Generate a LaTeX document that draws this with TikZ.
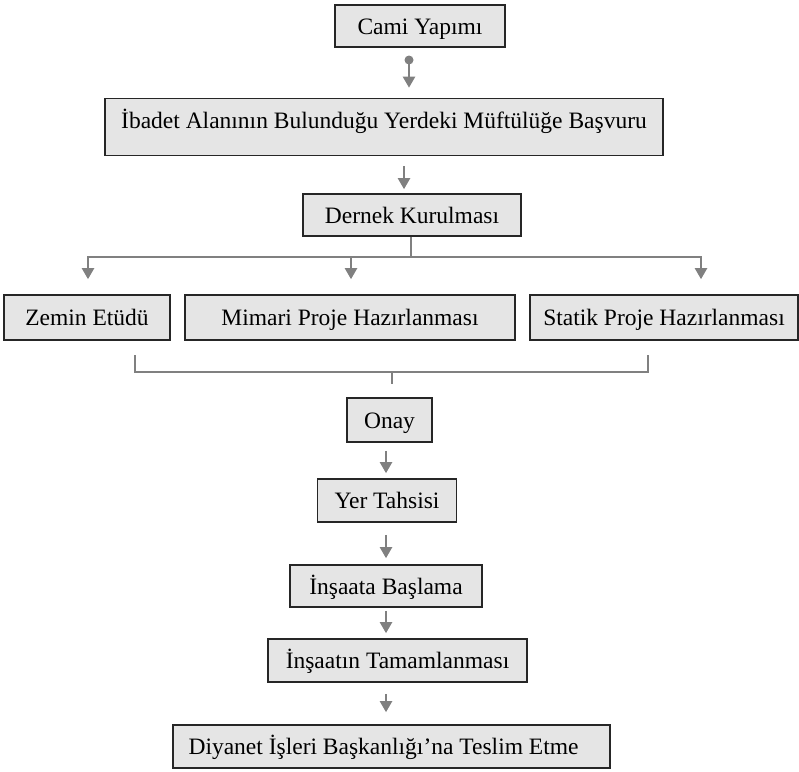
\documentclass[tikz,border=0pt]{standalone}
\usepackage{fontspec}
\setmainfont{Liberation Serif}
\usetikzlibrary{arrows.meta}

\tikzset{
  boxtext/.style={inner sep=0pt, text height=16pt, text depth=0pt,
                  font=\fontsize{23.5pt}{28pt}\selectfont},
  stepbox/.style={boxtext, draw=black!85, fill=gray!20, line width=1.6pt},
  wire/.style={draw=black!50, line width=2.2pt},
  conn/.style={wire, -{Triangle[length=11pt,width=12pt]}}
}

\begin{document}
\begin{tikzpicture}[x=1pt,y=-1pt]
  \useasboundingbox (0,0) rectangle (799,771);

  % process steps
  \node[stepbox, minimum width=170pt, minimum height=42pt] (cami) at (420,26) {Cami Yapımı};
  \node[stepbox, minimum width=558pt, minimum height=57pt] (ibadet) at (384,127) {};
  \node[boxtext] at ([yshift=7pt]ibadet.center) {İbadet Alanının Bulunduğu Yerdeki Müftülüğe Başvuru};
  \node[stepbox, minimum width=218pt, minimum height=42pt] (dernek) at (412,215) {Dernek Kurulması};

  \node[stepbox, minimum width=166pt, minimum height=45pt] (zemin) at (87,317.5) {Zemin Etüdü};
  \node[stepbox, minimum width=330pt, minimum height=45pt] (mimari) at (350,317.5) {Mimari Proje Hazırlanması};
  \node[stepbox, minimum width=268pt, minimum height=45pt] (statik) at (664,317.5) {Statik Proje Hazırlanması};

  \node[stepbox, minimum width=85pt, minimum height=44pt] (onay) at (389.5,420) {Onay};
  \node[stepbox, minimum width=139pt, minimum height=43pt] (yer) at (387,500.5) {Yer Tahsisi};
  \node[stepbox, minimum width=192pt, minimum height=42pt] (insaat) at (386,586) {İnşaata Başlama};
  \node[stepbox, minimum width=259pt, minimum height=43pt] (tamam) at (397.5,660.5) {İnşaatın Tamamlanması};
  \node[stepbox, minimum width=437pt, minimum height=43pt] (diyanet) at (391.5,746.5) {};
  \node[boxtext] at ([xshift=-8pt]diyanet.center) {Diyanet İşleri Başkanlığı’na Teslim Etme};

  % start of the flow
  \coordinate (dot) at (409,60);
  \fill[black!50] (dot) circle (4.5pt);
  \draw[conn] (dot) -- ([yshift=10pt]ibadet.north -| dot);

  \draw[conn, shorten <=10pt, shorten >=4pt] ([xshift=20pt]ibadet.south) -- ([xshift=20pt]ibadet.south |- dernek.north);

  % split into the three project studies
  \coordinate (busL) at (88,257);
  \coordinate (busR) at (701,257);
  \draw[wire] ([xshift=-1pt]dernek.south) -- ([xshift=-1pt]dernek.south |- busL);
  \draw[conn] ([xshift=-1pt]dernek.south |- busL) -- (busL) -- ([yshift=15pt]zemin.north -| busL);
  \draw[conn] ([xshift=-1pt]dernek.south |- busR) -- (busR) -- ([yshift=15pt]statik.north -| busR);
  \draw[conn] ([xshift=1pt]mimari.north |- busL) -- ([xshift=1pt,yshift=15pt]mimari.north);

  % studies joined again
  \coordinate (jL) at (135,355);
  \coordinate (bL) at (135,372);
  \coordinate (bR) at (648,372);
  \coordinate (jR) at (648,355);
  \coordinate (bM) at (392,372);
  \draw[wire] (jL) -- (bL) -- (bR) -- (jR);
  \draw[wire] (bM) -- ([yshift=13pt]onay.north -| bM);

  % approval to hand-over
  \coordinate (ax) at (386,0);
  \draw[conn, shorten <=8pt, shorten >=5pt] (onay.south -| ax) -- (yer.north -| ax);
  \draw[conn, shorten <=12pt, shorten >=6pt] (yer.south -| ax) -- (insaat.north -| ax);
  \draw[conn, shorten <=3pt, shorten >=5pt] (insaat.south -| ax) -- (tamam.north -| ax);
  \draw[conn, shorten <=11pt, shorten >=12pt] (tamam.south -| ax) -- (diyanet.north -| ax);
\end{tikzpicture}
\end{document}
